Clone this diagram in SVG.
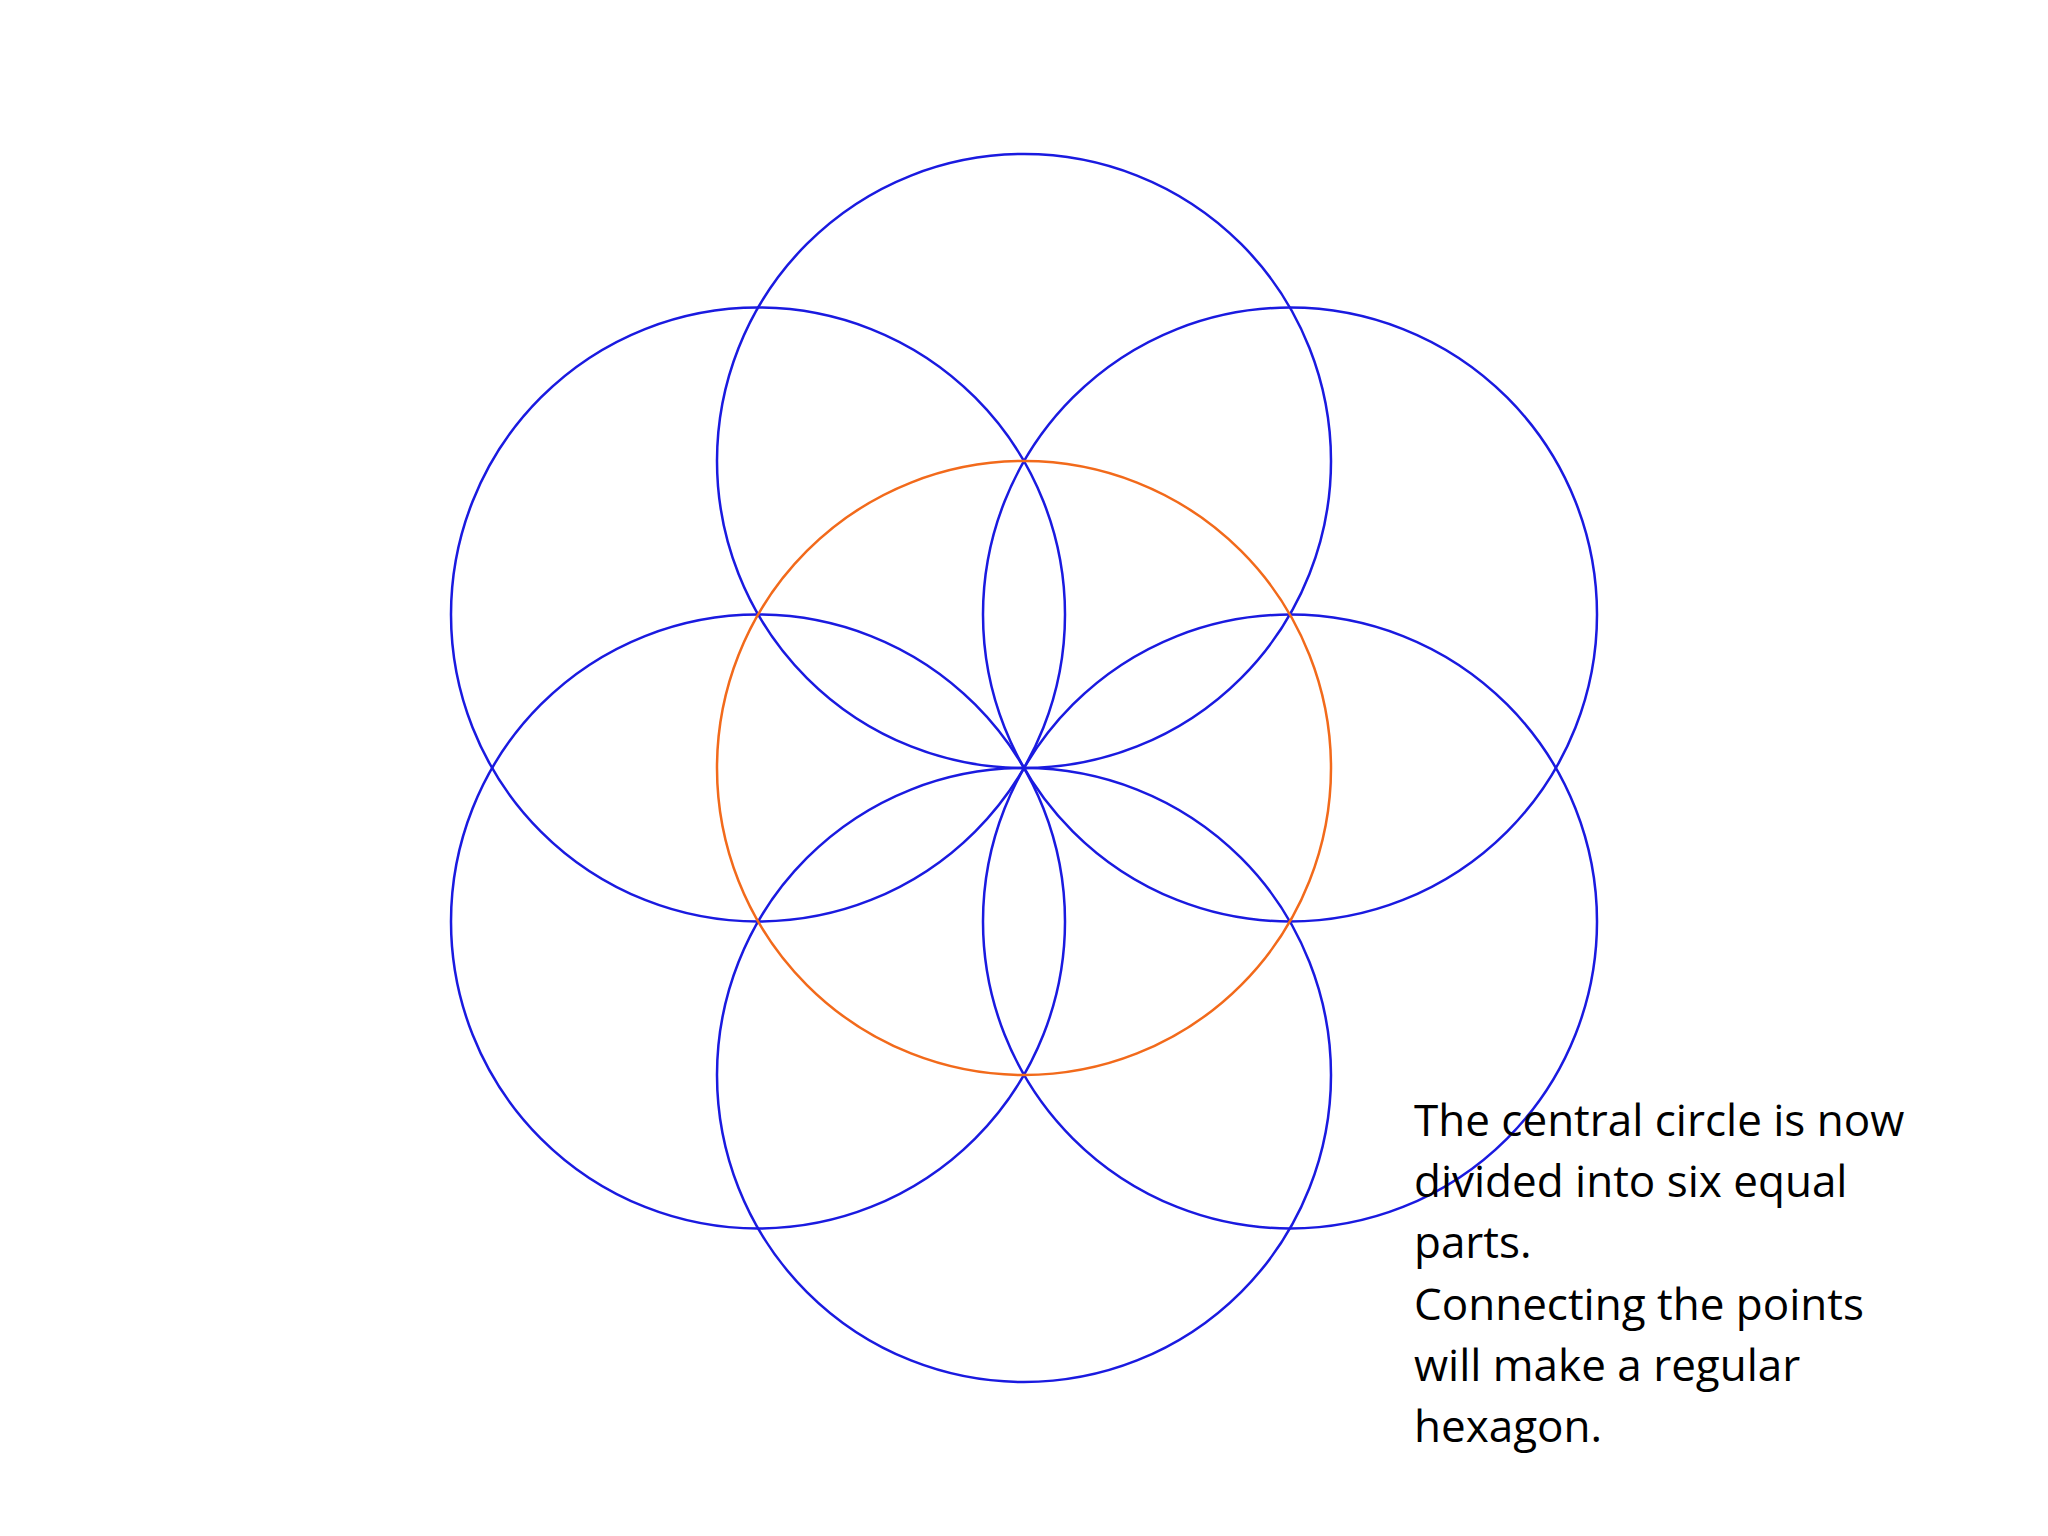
<svg xmlns="http://www.w3.org/2000/svg" width="2048" height="1536" viewBox="0 0 2048 1536">
<style>
.b{fill:none;stroke:#1a1ae0;stroke-width:2.5}
.o{fill:none;stroke:#f26a1b;stroke-width:2.5}
text{font-family:"Open Sans","Liberation Sans",sans-serif;font-size:44px;fill:#000}
</style>
<rect width="2048" height="1536" fill="#fff"/>
<g id="circles">
<circle id="top" class="b" cx="1024" cy="461" r="307"/>
<circle id="upright" class="b" cx="1290" cy="614.5" r="307"/>
<circle id="downright" class="b" cx="1290" cy="921.5" r="307"/>
<circle id="bottom" class="b" cx="1024" cy="1075" r="307"/>
<circle id="downleft" class="b" cx="758" cy="921.5" r="307"/>
<circle id="upleft" class="b" cx="758" cy="614.5" r="307"/>
<circle id="central" class="o" cx="1024" cy="768" r="307"/>
</g>
<g id="label">
<text x="1414" y="1136">The central circle is now</text>
<text x="1414" y="1197">divided into six equal</text>
<text x="1414" y="1258">parts.</text>
<text x="1414" y="1320">Connecting the points</text>
<text x="1414" y="1381">will make a regular</text>
<text x="1414" y="1442">hexagon.</text>
</g>
</svg>
